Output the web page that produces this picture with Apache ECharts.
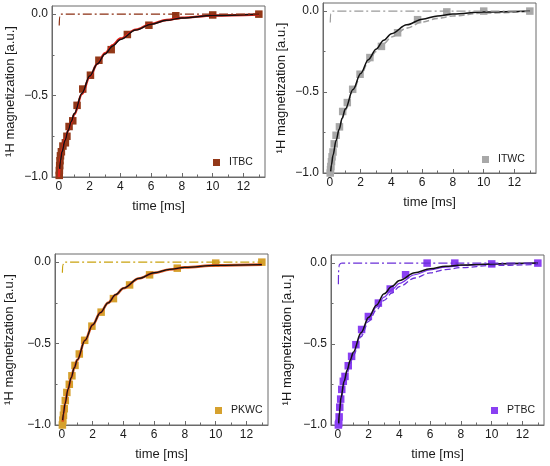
<!DOCTYPE html>
<html><head><meta charset="utf-8">
<script src="https://cdn.jsdelivr.net/npm/echarts@6/dist/echarts.min.js"></script>
<style>html,body{margin:0;padding:0;background:#fff}#c{width:550px;height:466px}</style>
</head><body><div id="c"></div>
<script>
// ---------- data ----------
const xMajorTicks = [0, 2, 4, 6, 8, 10, 12];
const xMinorTicks = [1, 3, 5, 7, 9, 11, 13];
const yMajorTicks = [-1.0, -0.5, 0.0];
const yMinorTicks = [-0.75, -0.25];

// common time grid of the drawn fit curves
const curveT = [0, 0.05, 0.1, 0.2, 0.4, 0.6, 0.8, 1, 1.5, 2, 2.5, 3, 3.5, 4, 5, 6, 7, 8, 10, 13];

// ITBC
const itbcT = [0.02, 0.03, 0.05, 0.07, 0.1, 0.16, 0.26, 0.42, 0.52, 0.66, 0.9, 1.18, 1.55, 2.05, 2.6, 3.4, 4.45, 5.85, 7.6, 10, 13];
const itbcM = [-0.99, -0.96, -0.93, -0.9, -0.87, -0.845, -0.81, -0.79, -0.75, -0.69, -0.655, -0.56, -0.46, -0.375, -0.283, -0.218, -0.125, -0.068, -0.01, -0.005, 0.0];
const itbcFit = [null, -0.95, -0.9, -0.845, -0.775, -0.715, -0.66, -0.61, -0.485, -0.38, -0.305, -0.245, -0.195, -0.155, -0.098, -0.062, -0.038, -0.023, -0.008, 0.0];
const itbcRed = [-1.0, -0.93, -0.89, -0.835, -0.77, -0.715, -0.665, -0.615, -0.49, -0.385, -0.305, -0.24, -0.19, -0.15, -0.095, -0.06, -0.036, -0.022, -0.008, -0.002];
const itbcDotT = [0.02, 0.04, 0.1, 13];
const itbcDotM = [-0.07, -0.02, 0, 0];

// ITWC
const itwcT = [0.02, 0.04, 0.06, 0.1, 0.14, 0.2, 0.28, 0.4, 0.62, 0.83, 1.13, 1.48, 1.96, 2.6, 3.35, 4.4, 5.7, 7.6, 10, 13];
const itwcM = [-1.0, -0.98, -0.96, -0.93, -0.9, -0.87, -0.82, -0.767, -0.715, -0.62, -0.565, -0.483, -0.39, -0.287, -0.218, -0.134, -0.053, -0.005, 0.0, 0.0];
const itwcFit = [null, -0.99, -0.95, -0.89, -0.8, -0.73, -0.66, -0.605, -0.485, -0.385, -0.3, -0.235, -0.18, -0.14, -0.085, -0.05, -0.03, -0.018, -0.006, 0.0];
const itwcDash = [null, -0.99, -0.95, -0.89, -0.8, -0.73, -0.665, -0.61, -0.495, -0.395, -0.315, -0.25, -0.2, -0.16, -0.105, -0.068, -0.045, -0.03, -0.012, -0.002];
const itwcDotT = [0.02, 0.05, 0.15, 13];
const itwcDotM = [-0.07, -0.015, 0, 0];

// PKWC
const pkwcT = [0.03, 0.06, 0.1, 0.15, 0.22, 0.32, 0.48, 0.65, 0.85, 1.13, 1.48, 1.95, 2.55, 3.35, 4.4, 5.7, 7.5, 10, 13];
const pkwcM = [-1.0, -0.97, -0.94, -0.9, -0.85, -0.8, -0.75, -0.698, -0.634, -0.564, -0.48, -0.393, -0.307, -0.224, -0.14, -0.078, -0.037, -0.006, 0.0];
const pkwcFit = [null, -0.97, -0.93, -0.87, -0.78, -0.71, -0.65, -0.6, -0.48, -0.385, -0.31, -0.25, -0.2, -0.16, -0.1, -0.065, -0.045, -0.032, -0.02, -0.015];
const pkwcRed = [null, -0.98, -0.935, -0.87, -0.78, -0.71, -0.65, -0.6, -0.48, -0.385, -0.31, -0.25, -0.2, -0.16, -0.1, -0.066, -0.045, -0.032, -0.02, -0.015];
const pkwcDotT = [0.03, 0.05, 0.15, 13];
const pkwcDotM = [-0.065, -0.02, 0, 0];

// PTBC
const ptbcT = [0.03, 0.05, 0.08, 0.12, 0.18, 0.25, 0.35, 0.46, 0.67, 0.89, 1.17, 1.54, 1.98, 2.63, 3.4, 4.4, 5.8, 7.6, 10, 13];
const ptbcM = [-1.0, -0.99, -0.95, -0.89, -0.84, -0.78, -0.73, -0.7, -0.634, -0.576, -0.504, -0.41, -0.33, -0.247, -0.16, -0.072, 0.0, 0.0, -0.005, 0.0];
const ptbcFit = [null, -0.99, -0.92, -0.83, -0.73, -0.66, -0.6, -0.55, -0.43, -0.335, -0.26, -0.19, -0.145, -0.108, -0.06, -0.035, -0.02, -0.012, -0.005, 0.0];
const ptbcSolid = [null, -1.0, -0.93, -0.84, -0.74, -0.67, -0.61, -0.56, -0.44, -0.345, -0.272, -0.21, -0.165, -0.125, -0.072, -0.042, -0.025, -0.015, -0.006, -0.002];
const ptbcDash = [null, -1.0, -0.94, -0.85, -0.75, -0.68, -0.62, -0.57, -0.455, -0.36, -0.29, -0.23, -0.185, -0.145, -0.092, -0.06, -0.04, -0.028, -0.015, -0.008];
const ptbcDotT = [0.03, 0.04, 0.06, 0.1, 0.2, 0.35, 13];
const ptbcDotM = [-0.13, -0.06, -0.025, -0.008, -0.001, 0, 0];

// ---------- chart ----------
const FONT = 'Liberation Sans, Arial, Helvetica, sans-serif';
const TXT = '#1a1a1a';
const FRAME = '#6a6a6a';
const DASHDOT = [9, 3, 2, 3];

function pairs(t, y) {
  const out = [];
  for (let i = 0; i < t.length; i++) if (y[i] !== null && y[i] !== undefined) out.push([t[i], y[i]]);
  return out;
}

const panels = [
  { grid: { left: 52, top: 6, width: 213, height: 171 }, yGap: 35, legend: { left: 213, top: 157 } },
  { grid: { left: 323, top: 3, width: 213, height: 170 }, yGap: 35, legend: { left: 482, top: 154 } },
  { grid: { left: 55, top: 254, width: 213, height: 171 }, yGap: 39, legend: { left: 215, top: 405 } },
  { grid: { left: 331, top: 255, width: 213, height: 170 }, yGap: 37, legend: { left: 491, top: 405 } }
];

const grids = [], xAxes = [], yAxes = [], legends = [];
panels.forEach((p, i) => {
  grids.push(Object.assign({ show: true, borderColor: FRAME, borderWidth: 1, backgroundColor: 'transparent' }, p.grid));
  xAxes.push({
    type: 'value', gridIndex: i, min: -0.45, max: 13.4, position: 'bottom',
    name: 'time [ms]', nameLocation: 'middle', nameGap: 23,
    nameTextStyle: { fontFamily: FONT, fontSize: 13, color: TXT },
    axisLine: { show: true, onZero: false, lineStyle: { color: FRAME, width: 1 } },
    axisTick: { show: true, inside: true, length: 4, customValues: xMajorTicks, lineStyle: { color: FRAME } },
    axisLabel: { show: true, customValues: xMajorTicks, margin: 4, fontFamily: FONT, fontSize: 12, color: TXT,
      formatter: v => String(Math.round(v)) },
    splitLine: { show: false }
  });
  xAxes.push({
    type: 'value', gridIndex: i, min: -0.45, max: 13.4, position: 'bottom',
    axisLine: { show: false, onZero: false },
    axisTick: { show: true, inside: true, length: 2.5, customValues: xMinorTicks, lineStyle: { color: FRAME } },
    axisLabel: { show: false }, splitLine: { show: false }
  });
  yAxes.push({
    type: 'value', gridIndex: i, min: -1.0, max: 0.05, position: 'left',
    name: '\u00B9H magnetization [a.u.]', nameLocation: 'middle', nameGap: p.yGap, nameRotate: 90,
    nameTextStyle: { fontFamily: FONT, fontSize: 13, color: TXT },
    axisLine: { show: true, onZero: false, lineStyle: { color: FRAME, width: 1 } },
    axisTick: { show: true, inside: true, length: 4, customValues: yMajorTicks, lineStyle: { color: FRAME } },
    axisLabel: { show: true, customValues: yMajorTicks, margin: 4, fontFamily: FONT, fontSize: 12, color: TXT,
      formatter: v => (v < -1e-9 ? '\u2212' : '') + Math.abs(v).toFixed(1) },
    splitLine: { show: false }
  });
  yAxes.push({
    type: 'value', gridIndex: i, min: -1.0, max: 0.05, position: 'left',
    axisLine: { show: false, onZero: false },
    axisTick: { show: true, inside: true, length: 2.5, customValues: yMinorTicks, lineStyle: { color: FRAME } },
    axisLabel: { show: false }, splitLine: { show: false }
  });
});

const names = ['ITBC', 'ITWC', 'PKWC', 'PTBC'];
panels.forEach((p, i) => {
  legends.push({
    data: [{ name: names[i], icon: 'rect' }], left: p.legend.left, top: p.legend.top, padding: 0,
    itemWidth: 7, itemHeight: 7, selectedMode: false,
    textStyle: { fontFamily: FONT, fontSize: 10.5, color: TXT, padding: [0, 0, 0, 4] }
  });
});

function scatter(i, name, t, m, color) {
  return { type: 'scatter', name, xAxisIndex: 2 * i, yAxisIndex: 2 * i, data: pairs(t, m),
    symbol: 'rect', symbolSize: 7.5, itemStyle: { color, opacity: 1 }, z: 2 };
}
function line(i, t, m, color, width, type, z) {
  return { type: 'line', xAxisIndex: 2 * i, yAxisIndex: 2 * i, data: pairs(t, m),
    showSymbol: false, symbol: 'none', smooth: 0.35, smoothMonotone: 'x',
    lineStyle: { color, width, type: type || 'solid' }, z: z || 3, silent: true };
}

const C1 = '#933818', C2 = '#a8a8a8', C3 = '#d6a12e', C4 = '#8a40f2';
const series = [
  scatter(0, 'ITBC', itbcT, itbcM, C1),
  line(0, curveT, itbcRed, '#e3241b', 2.4, 'solid', 3),
  line(0, curveT, itbcFit, '#111111', 1.5, 'solid', 4),
  line(0, itbcDotT, itbcDotM, '#8b2e12', 1.2, DASHDOT, 5),
  scatter(1, 'ITWC', itwcT, itwcM, C2),
  line(1, curveT, itwcDash, '#a0a0a0', 1.6, [6, 3], 3),
  line(1, curveT, itwcFit, '#111111', 1.5, 'solid', 4),
  line(1, itwcDotT, itwcDotM, '#9a9a9a', 1.2, DASHDOT, 5),
  scatter(2, 'PKWC', pkwcT, pkwcM, C3),
  line(2, curveT, pkwcRed, '#e0541f', 2.6, 'solid', 3),
  line(2, curveT, pkwcFit, '#111111', 1.3, 'solid', 4),
  line(2, pkwcDotT, pkwcDotM, '#c9a20e', 1.2, DASHDOT, 5),
  scatter(3, 'PTBC', ptbcT, ptbcM, C4),
  line(3, curveT, ptbcDash, '#6a2fd8', 1.3, [6, 3], 3),
  line(3, curveT, ptbcSolid, '#7a33e6', 1.2, 'solid', 3),
  line(3, curveT, ptbcFit, '#111111', 1.5, 'solid', 4),
  line(3, ptbcDotT, ptbcDotM, '#6a2fd8', 1.2, DASHDOT, 5)
];

const chart = echarts.init(document.getElementById('c'), null, { renderer: 'canvas' });
chart.setOption({
  animation: false,
  backgroundColor: '#ffffff',
  textStyle: { fontFamily: FONT },
  grid: grids, xAxis: xAxes, yAxis: yAxes, legend: legends, series
});
</script></body></html>
